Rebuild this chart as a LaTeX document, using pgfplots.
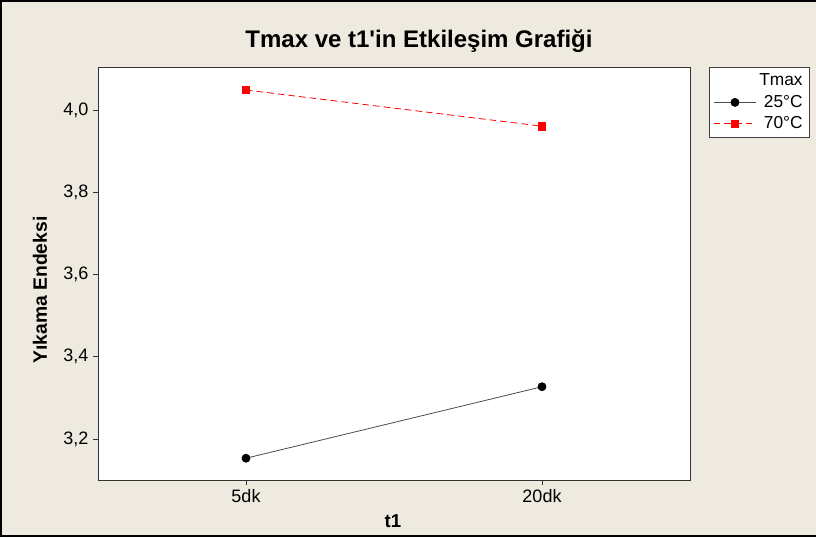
\documentclass[border=0pt]{standalone}
\usepackage{fontspec}
\setmainfont{Liberation Sans}
\usepackage{pgfplots}
\pgfplotsset{compat=1.18}
\definecolor{panel}{RGB}{238,234,223}
\definecolor{mred}{RGB}{255,0,0}
\begin{document}
\begin{tikzpicture}[x=0.75pt,y=0.75pt]
\useasboundingbox (0,0) rectangle (816,537);
\fill[panel] (0,0) rectangle (816,537);
% frame
\draw[line width=1.5pt] (0,535.8) -- (816,535.8);
\draw[line width=1.5pt] (1,0) -- (1,537);
\draw[line width=1.5pt] (0,1.5) -- (816,1.5);
% title and axis titles
\node[font=\bfseries\fontsize{18}{21}\selectfont] at (419,496) {Tmax ve t1\textquotesingle in Etkileşim Grafiği};
\node[font=\bfseries\fontsize{14.5}{17}\selectfont, rotate=90] at (40,247) {Yıkama Endeksi};
\node[font=\bfseries\fontsize{14}{16}\selectfont] at (393,16) {t1};
\begin{axis}[
  at={(73.5pt,42.75pt)}, anchor=south west,
  scale only axis, width=444pt, height=309.75pt,
  axis background/.style={fill=white},
  axis line style={draw=black!80, line width=0.6pt},
  xmin=-0.5, xmax=1.5, ymin=3.1, ymax=4.105,
  xtick={0,1}, xticklabels={5dk,20dk},
  ytick={3.2,3.4,3.6,3.8,4.0},
  tick pos=left, tick align=outside,
  major tick length=3.75pt,
  tick style={draw=black!80, line width=0.6pt},
  /pgf/number format/assume math mode=true,
  /pgf/number format/use comma,
  /pgf/number format/fixed,
  /pgf/number format/fixed zerofill,
  /pgf/number format/precision=1,
  tick label style={font=\fontsize{13.5}{15}\selectfont},
  legend cell align=right,
  legend style={at={(1.032,1)}, anchor=north west,
    draw=black!75, line width=0.6pt, fill=white,
    font=\fontsize{13}{15}\selectfont,
    row sep=1.5pt, inner xsep=3pt, inner ysep=3pt},
  legend image code/.code={
    \draw[mark repeat=2, mark phase=2] plot coordinates {(0cm,0cm) (0.56cm,0cm) (1.12cm,0cm)};},
]
\addlegendimage{empty legend}
\addlegendentry{Tmax}
\addplot[draw=black!70, line width=0.6pt, mark=*, mark size=3pt,
  mark options={fill=black, draw=black, solid}]
  coordinates {(0,3.153) (1,3.327)};
\addlegendentry{25°C}
\addplot[draw=mred, line width=0.6pt, dash pattern=on 5pt off 3pt,
  mark=square*, mark size=2.8pt, mark options={fill=mred, draw=mred, solid}]
  coordinates {(0,4.049) (1,3.961)};
\addlegendentry{70°C}
\end{axis}
\end{tikzpicture}
\end{document}
